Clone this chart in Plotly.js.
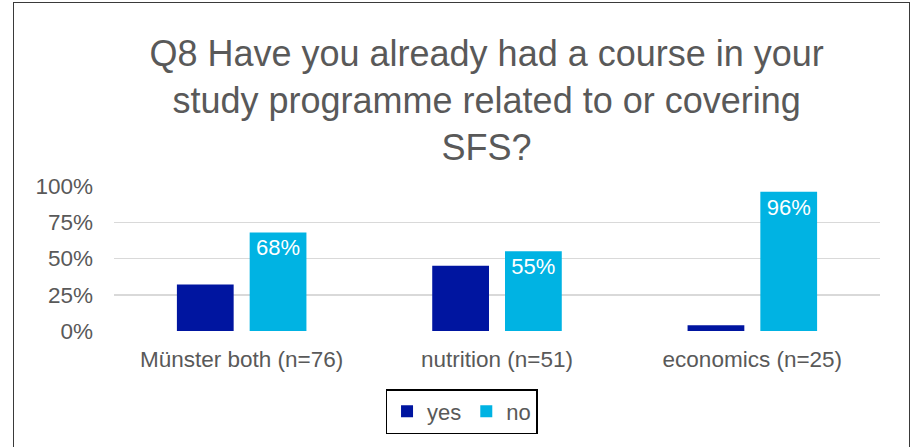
<!DOCTYPE html>
<html>
<head>
<meta charset="utf-8">
<script src="https://cdn.plot.ly/plotly-3.0.1.min.js"></script>
<style>
  html, body { margin: 0; padding: 0; background: #fff; }
  #wrap { position: relative; width: 913px; height: 447px; overflow: hidden; }
  #chart { width: 913px; height: 447px; }
  #frame { position: absolute; left: 13px; top: 2px; width: 895px; height: 470px;
           border: 1.5px solid #3a3a3a; pointer-events: none; }
</style>
</head>
<body>
<div id="wrap">
  <div id="chart"></div>
  <div id="frame"></div>
</div>
<script>
const categories = ["Münster both (n=76)", "nutrition (n=51)", "economics (n=25)"];
const yesValues = [0.32, 0.45, 0.04];
const noValues = [0.68, 0.55, 0.96];
const yTicks = [0, 0.25, 0.5, 0.75, 1];
const yTickLabels = ["0%", "25%", "50%", "75%", "100%"];
const titleText = "Q8 Have you already had a course in your<br>study programme related to or covering<br>SFS?";

const font = "Liberation Sans, Arial, sans-serif";
const gray = "#595959";

const traces = [
  {
    type: "bar", name: "yes", x: categories, y: yesValues,
    marker: { color: "#0015A0" },
    hoverinfo: "none"
  },
  {
    type: "bar", name: "no", x: categories, y: noValues,
    marker: { color: "#00B3E3" },
    texttemplate: "%{y:.0%}",
    textposition: "inside",
    insidetextanchor: "end",
    textangle: 0,
    textfont: { family: font, size: 22, color: "#ffffff" },
    hoverinfo: "none"
  }
];

const layout = {
  width: 913, height: 447,
  margin: { l: 114, r: 33, t: 186, b: 116 },
  paper_bgcolor: "rgba(0,0,0,0)",
  plot_bgcolor: "#ffffff",
  font: { family: font, color: gray },
  title: {
    text: titleText,
    font: { family: font, size: 36, color: gray },
    x: 0.533, xanchor: "center",
    y: 0.852, yanchor: "top"
  },
  barmode: "group",
  bargap: 0.43,
  bargroupgap: 0.22,
  xaxis: {
    type: "category",
    showgrid: false, showline: false, zeroline: false,
    ticks: "",
    tickfont: { family: font, size: 22.5, color: gray },
    ticklabelstandoff: 12
  },
  yaxis: {
    range: [0, 1],
    tickvals: yTicks, ticktext: yTickLabels,
    showgrid: true, gridcolor: "#d9d9d9", gridwidth: 1.5,
    zeroline: false, showline: false, ticks: "",
    tickfont: { family: font, size: 22.5, color: gray },
    ticklabelstandoff: 20
  },
  showlegend: true,
  legend: {
    orientation: "h",
    x: 0.4537, xanchor: "center",
    y: -0.4, yanchor: "top",
    bordercolor: "#000000", borderwidth: 1.5,
    font: { family: font, size: 22, color: gray },
    itemwidth: 30,
    traceorder: "normal"
  }
};

Plotly.newPlot("chart", traces, layout, { displayModeBar: false, staticPlot: true });
</script>
</body>
</html>
